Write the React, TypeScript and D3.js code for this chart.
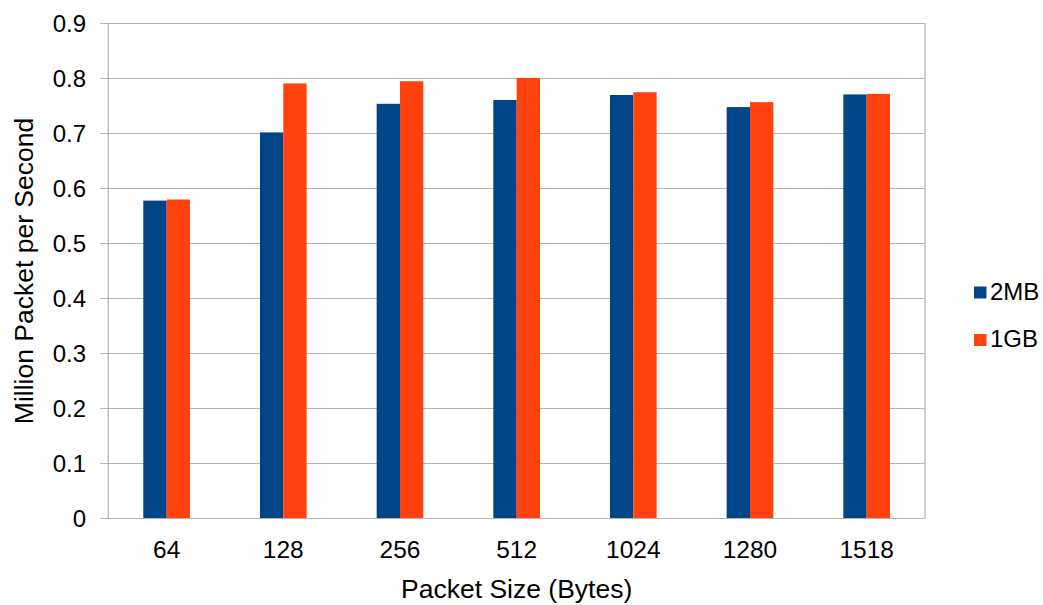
import React from "react";
import * as d3 from "d3";

const categories = ["64", "128", "256", "512", "1024", "1280", "1518"];
const series2MB = [0.578, 0.702, 0.754, 0.761, 0.770, 0.748, 0.771];
const series1GB = [0.580, 0.791, 0.795, 0.801, 0.775, 0.757, 0.772];
const seriesNames = ["2MB", "1GB"];
const seriesColors = ["#004586", "#ff420e"];
const yTicks = [0, 0.1, 0.2, 0.3, 0.4, 0.5, 0.6, 0.7, 0.8, 0.9];

const W = 1043;
const H = 605;
const M = { left: 108.3, right: 925, top: 23.5, bottom: 518.5 };
const FONT = "'Liberation Sans', Arial, sans-serif";

export default function App() {
  const x = d3.scaleBand<string>().domain(categories).range([M.left, M.right]).paddingInner(0).paddingOuter(0);
  const y = d3.scaleLinear().domain([0, 0.9]).range([M.bottom, M.top]);
  const groupW = x.bandwidth() * 0.4;
  const xs = d3.scaleBand<string>().domain(seriesNames).range([0, groupW]);
  const data = [series2MB, series1GB];

  return (
    <svg width={W} height={H} style={{ position: "absolute", left: 0, top: 0, display: "block" }} fontFamily={FONT}>
      <rect x={0} y={0} width={W} height={H} fill="#ffffff" />
      {yTicks.map((t) => (
        <g key={t}>
          <line x1={M.left - 8} x2={M.right} y1={y(t)} y2={y(t)} stroke="#b3b3b3" strokeWidth={1.2} />
          <text x={86} y={y(t)} dy="0.35em" textAnchor="end" fontSize={24} fill="#000">
            {d3.format(".1~f")(t)}
          </text>
        </g>
      ))}
      <line x1={M.left} x2={M.left} y1={M.top} y2={M.bottom} stroke="#b3b3b3" strokeWidth={1.2} />
      <line x1={M.right} x2={M.right} y1={M.top} y2={M.bottom} stroke="#b3b3b3" strokeWidth={1.2} />
      {categories.map((c, i) => {
        const gx = (x(c) as number) + (x.bandwidth() - groupW) / 2;
        return (
          <g key={c}>
            {data.map((s, j) => (
              <rect
                key={j}
                x={gx + (xs(seriesNames[j]) as number)}
                y={y(s[i])}
                width={xs.bandwidth()}
                height={y(0) - y(s[i])}
                fill={seriesColors[j]}
              />
            ))}
            <text x={(x(c) as number) + x.bandwidth() / 2} y={558} textAnchor="middle" fontSize={24.5} fill="#000">
              {c}
            </text>
          </g>
        );
      })}
      <line x1={M.left} x2={M.right} y1={M.bottom} y2={M.bottom} stroke="#b3b3b3" strokeWidth={1.2} />
      <text x={(M.left + M.right) / 2} y={598} textAnchor="middle" fontSize={26.5} fill="#000">
        Packet Size (Bytes)
      </text>
      <text
        transform={`translate(33, ${271}) rotate(-90)`}
        textAnchor="middle"
        fontSize={26.5}
        fill="#000"
      >
        Million Packet per Second
      </text>
      {seriesNames.map((n, j) => (
        <g key={n}>
          <rect x={974} y={286.5 + j * 47.5} width={12.5} height={12} fill={seriesColors[j]} />
          <text x={990} y={300 + j * 46.7} fontSize={24} fill="#000">
            {n}
          </text>
        </g>
      ))}
    </svg>
  );
}
